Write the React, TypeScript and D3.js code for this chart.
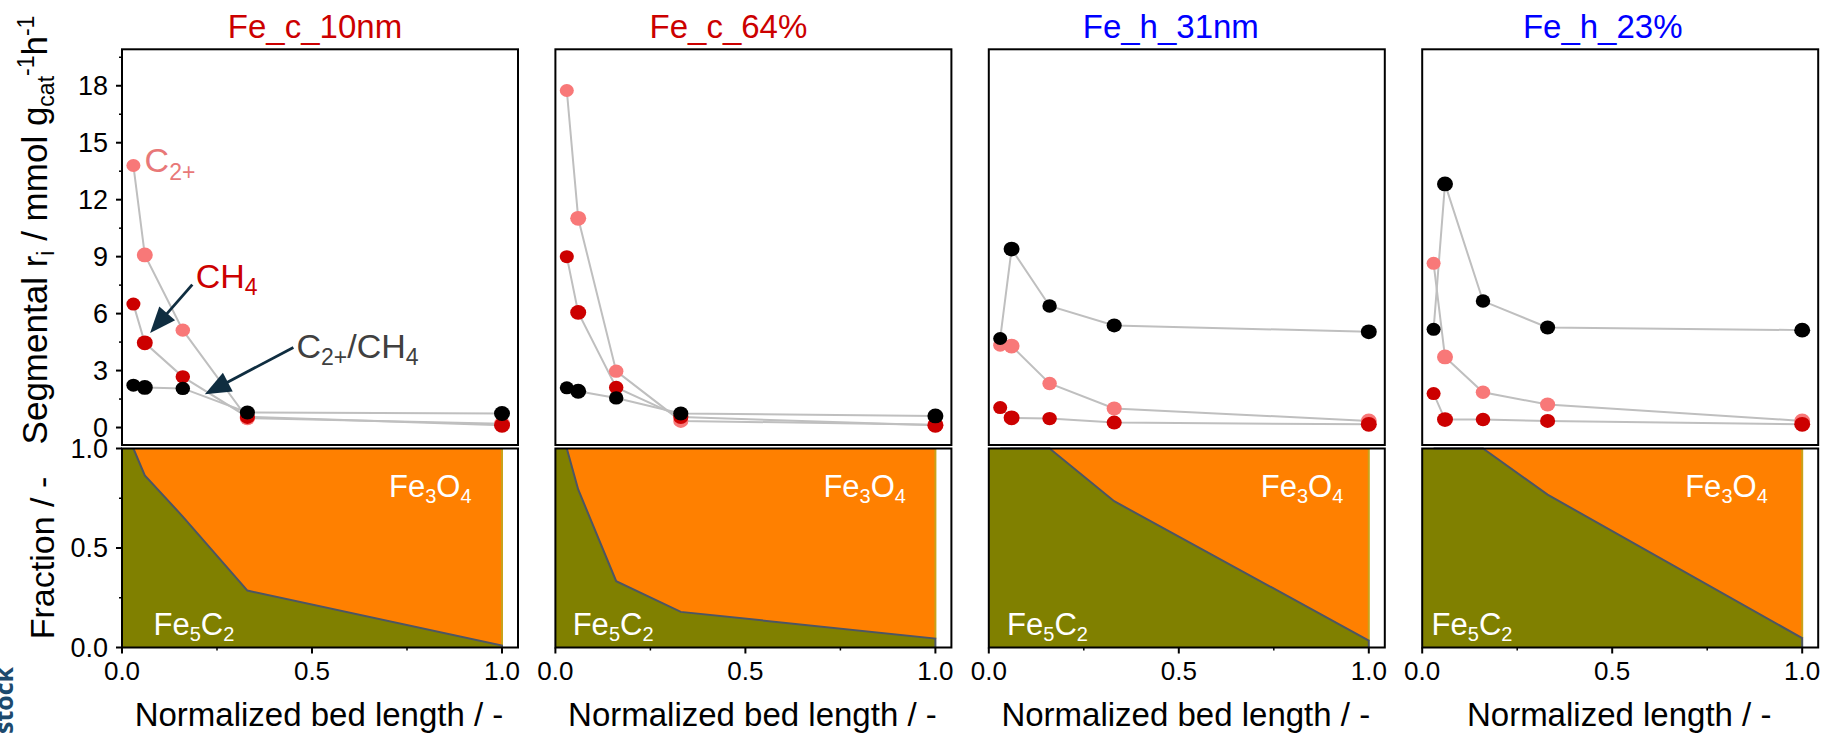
import React from "react";
import * as d3 from "d3";

// ---- data ----
const bedPositions = [0.03, 0.06, 0.16, 0.33, 1.0];
const catalystNames = ["Fe_c_10nm", "Fe_c_64%", "Fe_h_31nm", "Fe_h_23%"];
const catalystColors = ["#cc0000", "#cc0000", "#0000ff", "#0000ff"];
const xAxisTitles = [
  "Normalized bed length / -",
  "Normalized bed length / -",
  "Normalized bed length / -",
  "Normalized length / -",
];
// segmental C2+ formation rate, mmol g_cat^-1 h^-1
const c2Rates = [
  [13.8, 9.09, 5.13, 0.49, 0.2],
  [17.75, 11.02, 2.97, 0.35, 0.15],
  [4.34, 4.29, 2.32, 1.0, 0.35],
  [8.65, 3.72, 1.86, 1.21, 0.35],
];
// segmental CH4 formation rate
const ch4Rates = [
  [6.5, 4.46, 2.67, 0.56, 0.12],
  [9.0, 6.06, 2.11, 0.55, 0.12],
  [1.05, 0.51, 0.47, 0.26, 0.17],
  [1.79, 0.42, 0.42, 0.35, 0.17],
];
// C2+/CH4 ratio
const ratioRates = [
  [2.23, 2.11, 2.06, 0.79, 0.74],
  [2.09, 1.91, 1.56, 0.74, 0.61],
  [4.69, 9.4, 6.4, 5.38, 5.04],
  [5.17, 12.83, 6.66, 5.27, 5.13],
];
// Fe5C2 phase fraction along the bed (remainder is Fe3O4)
const phasePositions = [0, 0.03, 0.06, 0.16, 0.33, 1.0];
const carbideFraction = [
  [1, 1, 0.865, 0.658, 0.286, 0.01],
  [1, 1, 0.794, 0.333, 0.179, 0.045],
  [1, 1, 1, 1, 0.735, 0.035],
  [1, 1, 1, 1, 0.768, 0.047],
];
const rateTicks = [0, 3, 6, 9, 12, 15, 18];
const rateMinorTicks = [1.5, 4.5, 7.5, 10.5, 13.5, 16.5, 19.5];
const fractionTicks = [0, 0.5, 1];
const fractionMinorTicks = [0.25, 0.75];
const lengthTicks = [0, 0.5, 1];
const lengthMinorTicks = [0.25, 0.75];

// ---- styling / layout ----
const FONT = "'Liberation Sans', Arial, Helvetica, sans-serif";
const W = 1825;
const H = 735;
const PANEL_LEFT0 = 122;
const PANEL_STEP = 433.4;
const UNIT = 380;
const FRAME_W = 396;
const TOP_Y0 = 49.3;
const TOP_Y1 = 445;
const BOT_Y0 = 448.5;
const BOT_Y1 = 647.5;
const PINK = "#f87878";
const RED = "#cc0000";
const OLIVE = "#808000";
const ORANGE = "#ff8000";
const ARROW = "#0f2d40";
const markerR = [6.5, 7.4, 6.7, 7, 7.4];
const titleOffset = [193, 173, 182, 180.5];
const oxideOffset = [267, 268, 272, 263];
const carbideOffset = [31.5, 17.3, 18.3, 9.4];

const fmt1 = d3.format(".1f");

function Sub({ children, size = 21, shift = 7 }: any) {
  return (
    <tspan fontSize={size} dy={shift}>
      {children}
    </tspan>
  );
}

function Arrow({ x1, y1, x2, y2 }: any) {
  const dx = x2 - x1;
  const dy = y2 - y1;
  const len = Math.hypot(dx, dy);
  const ux = dx / len;
  const uy = dy / len;
  const hl = 26;
  const hw = 10.5;
  const bx = x2 - ux * hl;
  const by = y2 - uy * hl;
  const pts = [
    [x2, y2],
    [bx - uy * hw, by + ux * hw],
    [bx + uy * hw, by - ux * hw],
  ];
  return (
    <g>
      <line x1={x1} y1={y1} x2={bx + ux * 2} y2={by + uy * 2} stroke={ARROW} strokeWidth={2.8} />
      <polygon points={pts.map((p) => p.join(",")).join(" ")} fill={ARROW} />
    </g>
  );
}

function Panel({ i }: { i: number }) {
  const left = PANEL_LEFT0 + i * PANEL_STEP;
  const x = d3.scaleLinear().domain([0, 1]).range([left, left + UNIT]);
  const yTop = d3.scaleLinear().domain([-0.92, 19.92]).range([TOP_Y1, TOP_Y0]);
  const yBot = d3.scaleLinear().domain([0, 1]).range([BOT_Y1, BOT_Y0]);

  const series = [
    { vals: c2Rates[i], color: PINK },
    { vals: ch4Rates[i], color: RED },
    { vals: ratioRates[i], color: "#000000" },
  ];
  const line = d3
    .line<number>()
    .x((_, k) => x(bedPositions[k]))
    .y((v) => yTop(v));

  const phase = phasePositions.map((p, k) => ({ p, f: carbideFraction[i][k] }));
  const carbideArea = d3
    .area<{ p: number; f: number }>()
    .x((d) => x(d.p))
    .y0(yBot(0))
    .y1((d) => yBot(d.f));
  const oxideArea = d3
    .area<{ p: number; f: number }>()
    .x((d) => x(d.p))
    .y0((d) => yBot(d.f))
    .y1(yBot(1));
  const boundary = d3
    .line<{ p: number; f: number }>()
    .x((d) => x(d.p))
    .y((d) => yBot(d.f));
  const last = phase[phase.length - 1];

  return (
    <g>
      {/* title */}
      <text x={left + titleOffset[i]} y={37.7} fontSize={33} fill={catalystColors[i]} textAnchor="middle">
        {catalystNames[i]}
      </text>

      {/* rate panel */}
      <rect x={left} y={TOP_Y0} width={FRAME_W} height={TOP_Y1 - TOP_Y0} fill="#fff" />
      {series.map((s, k) => (
        <path key={"l" + k} d={line(s.vals) || ""} fill="none" stroke="#bfbfbf" strokeWidth={2} />
      ))}
      {series.map((s, k) => (
        <g key={"m" + k}>
          {s.vals.map((v, j) => (
            <ellipse
              key={j}
              cx={x(bedPositions[j])}
              cy={yTop(v)}
              rx={markerR[j] * 1.08}
              ry={markerR[j]}
              fill={s.color}
            />
          ))}
        </g>
      ))}
      <rect x={left} y={TOP_Y0} width={FRAME_W} height={TOP_Y1 - TOP_Y0} fill="none" stroke="#000" strokeWidth={2} />

      {/* phase panel */}
      <path d={carbideArea(phase) || ""} fill={OLIVE} />
      <path d={oxideArea(phase) || ""} fill={ORANGE} />
      <line x1={x(1)} x2={x(1)} y1={yBot(1)} y2={yBot(last.f)} stroke="#c9a21a" strokeWidth={2} />
      <path
        d={(boundary(phase.slice(1)) || "") + `L${x(1)},${yBot(0)}`}
        fill="none"
        stroke="#4d5563"
        strokeWidth={2}
      />
      <rect x={left} y={BOT_Y0} width={FRAME_W} height={BOT_Y1 - BOT_Y0} fill="none" stroke="#000" strokeWidth={2} />
      <text x={left + oxideOffset[i]} y={497} fontSize={31} fill="#fff">
        Fe<tspan fontSize={20} dy={6}>3</tspan>
        <tspan dy={-6}>O</tspan>
        <tspan fontSize={20} dy={6}>4</tspan>
      </text>
      <text x={left + carbideOffset[i]} y={635} fontSize={31} fill="#fff">
        Fe<tspan fontSize={20} dy={6}>5</tspan>
        <tspan dy={-6}>C</tspan>
        <tspan fontSize={20} dy={6}>2</tspan>
      </text>

      {/* x axis */}
      {lengthTicks.map((t) => (
        <g key={"xt" + t}>
          <line x1={x(t)} x2={x(t)} y1={BOT_Y1} y2={BOT_Y1 + 6} stroke="#000" strokeWidth={2} />
          <text x={x(t)} y={680} fontSize={26} textAnchor="middle" fill="#000">
            {fmt1(t)}
          </text>
        </g>
      ))}
      {lengthMinorTicks.map((t) => (
        <line key={"xm" + t} x1={x(t)} x2={x(t)} y1={BOT_Y1} y2={BOT_Y1 + 3} stroke="#000" strokeWidth={1.5} />
      ))}
      <text x={left + 197} y={726} fontSize={33} textAnchor="middle" fill="#000">
        {xAxisTitles[i]}
      </text>

      {i === 0 && (
        <g>
          {rateTicks.map((t) => (
            <g key={"yt" + t}>
              <line x1={left - 6} x2={left} y1={yTop(t)} y2={yTop(t)} stroke="#000" strokeWidth={2} />
              <text x={left - 14} y={yTop(t)} dy="0.35em" fontSize={27} textAnchor="end" fill="#000">
                {t}
              </text>
            </g>
          ))}
          {rateMinorTicks.map((t) => (
            <line key={"ym" + t} x1={left - 3} x2={left} y1={yTop(t)} y2={yTop(t)} stroke="#000" strokeWidth={1.5} />
          ))}
          {fractionTicks.map((t) => (
            <g key={"ft" + t}>
              <line x1={left - 6} x2={left} y1={yBot(t)} y2={yBot(t)} stroke="#000" strokeWidth={2} />
              <text x={left - 14} y={yBot(t)} dy="0.35em" fontSize={27} textAnchor="end" fill="#000">
                {fmt1(t)}
              </text>
            </g>
          ))}
          {fractionMinorTicks.map((t) => (
            <line key={"fm" + t} x1={left - 3} x2={left} y1={yBot(t)} y2={yBot(t)} stroke="#000" strokeWidth={1.5} />
          ))}

          {/* series annotations */}
          <text x={x(0.0595)} y={yTop(13.47)} fontSize={34} fill="#e87878">
            C<Sub size={23} shift={8}>2+</Sub>
          </text>
          <text x={x(0.194)} y={yTop(7.33)} fontSize={34} fill={RED}>
            CH<Sub size={23} shift={7}>4</Sub>
          </text>
          <text x={x(0.459)} y={yTop(3.64)} fontSize={34} fill="#404040">
            C<Sub size={23} shift={7}>2+</Sub>
            <tspan dy={-7}>/CH</tspan>
            <Sub size={23} shift={7}>4</Sub>
          </text>
          <Arrow x1={x(0.185)} y1={yTop(7.53)} x2={x(0.074)} y2={yTop(4.98)} />
          <Arrow x1={x(0.451)} y1={yTop(4.22)} x2={x(0.218)} y2={yTop(1.75)} />
        </g>
      )}
    </g>
  );
}

export default function App() {
  return (
    <svg
      width={W}
      height={H}
      viewBox={`0 0 ${W} ${H}`}
      style={{ position: "absolute", left: 0, top: 0, background: "#fff" }}
      fontFamily={FONT}
    >
      <rect x={0} y={0} width={W} height={H} fill="#fff" />
      {catalystNames.map((_, i) => (
        <Panel key={i} i={i} />
      ))}

      {/* y axis titles */}
      <text transform="translate(47,230) rotate(-90)" fontSize={35} textAnchor="middle" fill="#000">
        Segmental r<tspan fontSize={23} dy={7}>i</tspan>
        <tspan dy={-7}> / mmol g</tspan>
        <tspan fontSize={23} dy={7}>cat</tspan>
        <tspan fontSize={23} dy={-20}>-1</tspan>
        <tspan dy={13}>h</tspan>
        <tspan fontSize={23} dy={-13}>-1</tspan>
      </text>
      <text transform="translate(54,558) rotate(-90)" fontSize={34} textAnchor="middle" fill="#000">
        Fraction / -
      </text>

      <text
        transform="translate(13,734) rotate(-90)"
        fontSize={25}
        fontWeight={700}
        fontFamily="'Open Sans', sans-serif"
        fill="#1d4a6e"
      >
        stock
      </text>
    </svg>
  );
}
